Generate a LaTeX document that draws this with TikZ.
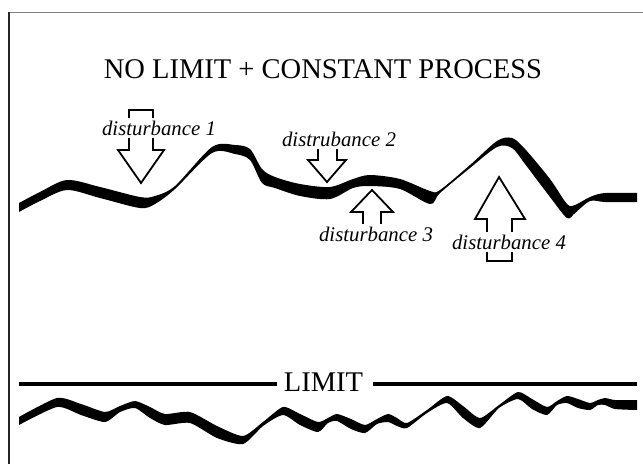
\documentclass[tikz,border=0pt]{standalone}
\usepackage{fontspec}
\setmainfont{Liberation Serif}
\begin{document}
\begin{tikzpicture}[x=1pt,y=-1pt,
  wave/.style={fill=black},
  blockarrow/.style={draw=black, line width=1.8pt, fill=white, line join=miter},
  distlabel/.style={font=\fontsize{20.8}{24}\selectfont\itshape, fill=white, inner sep=2.5pt, text depth=0pt, anchor=base},
  bigtext/.style={font=\fontsize{28.5}{32}\selectfont, inner sep=0pt, anchor=base},
  limitline/.style={line width=4pt}
]
\useasboundingbox (0,0) rectangle (643,464);
% frame
\draw[gray, line width=1.5pt] (9,12.5) -- (643,12.5);
\draw[black!85, line width=1.5pt] (9,12) -- (9,464);

% title
\node[bigtext] (title) at (323,78) {NO LIMIT + CONSTANT PROCESS};

% upper wave
\fill[wave] plot[smooth, tension=0.5] coordinates {(19,203) (40,192) (67,180) (100,187) (140,197) (155,196) (175,186) (212,147) (235,145) (250,149) (262,169) (275,177) (300,184) (330,187) (353,179) (370,175) (400,179) (430,191) (440,190) (470,165) (497,141) (512,138) (525,149) (550,179) (567,204) (575,205) (590,197) (605,193) (637,193)}
 -- plot[smooth, tension=0.5] coordinates {(637,202) (605,202) (590,201) (575,213) (567,218) (550,197) (525,164) (512,148) (497,147) (470,168) (440,193) (430,204) (400,189) (370,186) (353,188) (330,199) (300,196) (275,188) (262,183) (250,160) (235,154) (212,153) (175,189) (155,204) (140,208) (100,198) (67,190) (40,201) (19,212)} -- cycle;

% arrows
\draw[blockarrow] (129,110) -- (129,150) -- (118,150) -- (141,183) -- (164,150) -- (153,150) -- (153,110) -- cycle;
\draw[blockarrow] (318,140) -- (318,160) -- (308,160) -- (327,182) -- (346,160) -- (337,160) -- (337,140) -- cycle;
\draw[blockarrow] (372,190) -- (393,212) -- (381,212) -- (381,232) -- (363,232) -- (363,212) -- (351,212) -- cycle;
\draw[blockarrow] (499,177) -- (525,219) -- (512,219) -- (512,261) -- (487,261) -- (487,219) -- (475,219) -- cycle;

% labels
\node[distlabel] (d1) at (159,135) {disturbance 1};
\node[distlabel] (d2) at (339,146) {distrubance 2};
\node[distlabel] (d3) at (376,241) {disturbance 3};
\node[distlabel] (d4) at (509,249) {disturbance 4};

% limit
\node[bigtext] (limit) at (323.5,391) {LIMIT};
\coordinate (la) at (19,384);
\coordinate (lb) at (277,384);
\coordinate (lc) at (373,384);
\coordinate (ld) at (637,384);
\draw[limitline] (la) -- (lb);
\draw[limitline] (lc) -- (ld);

% lower wave
\fill[wave] plot[smooth, tension=0.4] coordinates {(19,417) (57,398) (81,404) (105,412) (120,406) (135,401) (150,407) (165,414) (190,412) (217,426) (243,436) (263,422) (283,407) (300,414) (318,422) (328,418) (337,414) (351,419) (365,425) (377,419) (388,414) (397,418) (407,423) (427,410) (447,396) (463,406) (480,418) (499,405) (518,392) (532,399) (547,407) (557,401) (567,396) (578,399) (590,403) (598,400) (605,398) (615,400) (637,400)}
 -- plot[smooth, tension=0.4] coordinates {(637,410) (615,409) (605,405) (598,405) (590,410) (578,408) (567,403) (557,405) (547,415) (532,409) (518,399) (499,408) (480,428) (463,418) (447,403) (427,413) (407,428) (397,426) (388,422) (377,424) (365,433) (351,429) (337,421) (328,423) (318,432) (300,425) (283,415) (263,426) (243,444) (217,438) (190,423) (165,425) (150,418) (135,408) (120,412) (105,422) (81,415) (57,407) (19,425)} -- cycle;
\end{tikzpicture}
\end{document}
